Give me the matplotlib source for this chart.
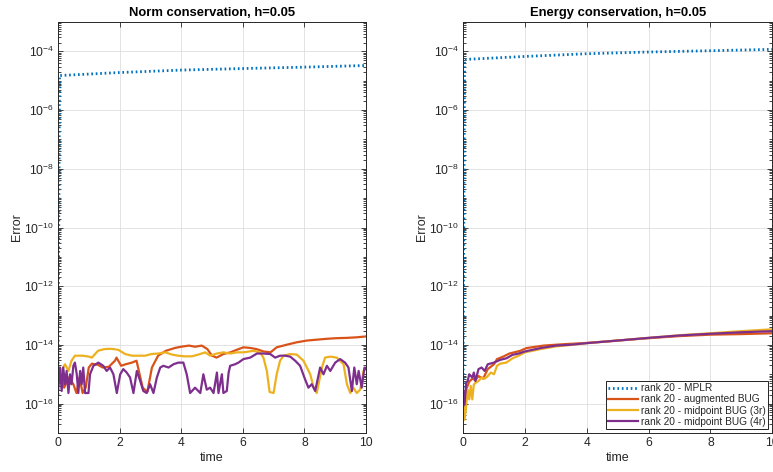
import numpy as np
import matplotlib
matplotlib.use("Agg")
import matplotlib.pyplot as plt
from matplotlib.ticker import FixedLocator, LogLocator, NullFormatter

plt.rcParams['font.family'] = ['Liberation Sans', 'DejaVu Sans']
plt.rcParams['mathtext.default'] = 'regular'

# MATLAB default line colours
c_blue = '#0072BD'
c_orange = '#D95319'
c_yellow = '#EDB120'
c_purple = '#7E2F8E'

labels = ['rank 20 - MPLR', 'rank 20 - augmented BUG',
          'rank 20 - midpoint BUG (3r)', 'rank 20 - midpoint BUG (4r)']

# ---- Norm conservation (left) ----
t_mplr = [0, 0.05, 2, 4, 6, 8, 10]
norm_mplr = [2.0e-16, 1.5e-5, 1.9e-5, 2.3e-5, 2.6e-5, 2.9e-5, 3.3e-5]

t_norm_aug = [0, 0.1, 0.2, 0.35, 0.5, 0.6, 0.7, 0.8, 0.9, 1.0, 1.1, 1.3, 1.45, 1.65,
              1.85, 1.9, 2.05, 2.2, 2.4, 2.55, 2.65, 2.75, 2.9, 3.05, 3.25, 3.5, 3.8,
              4.0, 4.25, 4.45, 4.67, 4.85, 5.0, 5.15, 5.37, 5.6, 5.8, 6.02, 6.24, 6.45,
              6.67, 6.9, 7.1, 7.43, 7.75, 8.08, 8.4, 8.73, 9.05, 9.38, 9.7, 10.0]
norm_aug = [5.9e-16, 1.0e-15, 3.5e-16, 7.8e-16, 4.6e-16, 2.3e-16, 7.8e-16, 2.3e-16,
            3.5e-16, 1.7e-15, 2.3e-15, 2.1e-15, 1.7e-15, 1.8e-15, 2.9e-15, 3.7e-15,
            1.95e-15, 2.2e-15, 2.5e-15, 2.9e-15, 1.0e-15, 3.5e-16, 2.5e-16, 1.7e-15,
            4.3e-15, 6.3e-15, 7.9e-15, 8.7e-15, 9.5e-15, 8.7e-15, 9.5e-15, 7.2e-15,
            4.3e-15, 3.7e-15, 4.9e-15, 5.6e-15, 6.8e-15, 8.3e-15, 7.9e-15, 7.2e-15,
            6.0e-15, 5.6e-15, 8.3e-15, 1.02e-14, 1.23e-14, 1.41e-14, 1.51e-14,
            1.62e-14, 1.70e-14, 1.74e-14, 1.82e-14, 1.95e-14]

t_norm_mid3 = [0, 0.1, 0.23, 0.34, 0.44, 0.55, 0.8, 1.0, 1.1, 1.3, 1.5, 1.7, 1.85, 1.96,
               2.18, 2.4, 2.6, 2.83, 3.04, 3.26, 3.48, 3.7, 3.9, 4.1, 4.35, 4.56, 4.78,
               4.94, 5.16, 5.37, 5.59, 5.81, 6.02, 6.35, 6.56, 6.67, 6.78, 6.87, 7.0,
               7.1, 7.21, 7.32, 7.54, 7.75, 7.97, 8.19, 8.3, 8.4, 8.57, 8.67, 8.84,
               9.05, 9.27, 9.38, 9.49, 9.59, 9.7, 9.81, 9.92, 10.0]
norm_mid3 = [5.9e-16, 1.3e-15, 2.2e-15, 1.3e-15, 2.9e-15, 4.3e-15, 4.3e-15, 4.0e-15,
             3.7e-15, 6.3e-15, 7.2e-15, 7.4e-15, 7.1e-15, 6.8e-15, 4.9e-15, 4.3e-15,
             4.3e-15, 4.3e-15, 4.9e-15, 5.1e-15, 5.6e-15, 4.7e-15, 4.3e-15, 4.1e-15,
             4.1e-15, 4.7e-15, 5.6e-15, 4.3e-15, 5.1e-15, 5.6e-15, 5.1e-15, 5.6e-15,
             5.6e-15, 6.3e-15, 5.6e-15, 3.7e-15, 1.3e-15, 2.5e-16, 2.3e-16, 1.0e-15,
             2.9e-15, 4.3e-15, 4.9e-15, 4.7e-15, 2.9e-15, 1.0e-15, 3.5e-16, 2.3e-16,
             1.7e-15, 3.7e-15, 4.0e-15, 3.7e-15, 2.2e-15, 4.6e-16, 2.3e-16, 3.5e-16,
             2.3e-16, 3.0e-16, 1.3e-15, 1.7e-15]

t_norm_mid4 = [0, 0.065, 0.12, 0.17, 0.23, 0.28, 0.34, 0.39, 0.44, 0.5, 0.55, 0.61, 0.66,
               0.72, 0.77, 0.82, 0.88, 0.99, 1.04, 1.15, 1.31, 1.47, 1.58, 1.69, 1.8,
               1.91, 2.02, 2.12, 2.23, 2.34, 2.45, 2.56, 2.67, 2.77, 2.88, 2.99, 3.1,
               3.21, 3.32, 3.42, 3.59, 3.75, 3.91, 4.07, 4.18, 4.29, 4.45, 4.62, 4.72,
               4.83, 4.94, 5.05, 5.16, 5.21, 5.32, 5.37, 5.48, 5.54, 5.59, 5.75, 5.86,
               6.02, 6.24, 6.46, 6.67, 6.89, 7.05, 7.21, 7.38, 7.54, 7.7, 7.86, 8.02,
               8.13, 8.24, 8.35, 8.51, 8.62, 8.73, 8.84, 9.0, 9.16, 9.32, 9.43, 9.54,
               9.62, 9.7, 9.76, 9.86, 9.95, 10.0]
norm_mid4 = [2.7e-16, 1.7e-15, 2.7e-16, 1.7e-15, 4.6e-16, 1.3e-15, 2.3e-16, 1.0e-15,
             4.6e-16, 1.95e-15, 2.5e-15, 1.0e-15, 2.3e-16, 1.3e-15, 4.6e-16, 1.7e-15,
             2.3e-16, 2.3e-16, 1.0e-15, 1.95e-15, 2.5e-15, 1.95e-15, 1.3e-15, 1.7e-15,
             1.0e-15, 2.3e-16, 1.0e-15, 1.5e-15, 1.15e-15, 7.8e-16, 2.3e-16, 1.3e-15,
             5.9e-16, 2.7e-16, 2.3e-16, 4.6e-16, 2.3e-16, 7.8e-16, 1.7e-15, 1.95e-15,
             1.7e-15, 2.2e-15, 2.5e-15, 2.5e-15, 1.0e-15, 2.3e-16, 3.5e-16, 2.3e-16,
             1.0e-15, 3.0e-16, 3.5e-16, 2.3e-16, 1.15e-15, 2.3e-16, 1.0e-15, 2.3e-16,
             2.7e-16, 1.15e-15, 1.95e-15, 2.2e-15, 2.5e-15, 3.3e-15, 3.7e-15, 5.1e-15,
             5.1e-15, 4.9e-15, 3.7e-15, 4.3e-15, 4.3e-15, 4.0e-15, 2.9e-15, 1.95e-15,
             6.8e-16, 3.5e-16, 4.6e-16, 2.7e-16, 1.7e-15, 1.0e-15, 1.95e-15, 1.3e-15,
             2.5e-15, 3.3e-15, 2.5e-15, 1.7e-15, 2.7e-16, 1.7e-15, 4.6e-16, 1.3e-15,
             3.5e-16, 1.7e-15, 1.5e-15]

# ---- Energy conservation (right) ----
energy_mplr = [1.7e-16, 5.3e-5, 6.7e-5, 8.3e-5, 9.5e-5, 1.05e-4, 1.17e-4]

t_en_aug = [0, 0.05, 0.1, 0.2, 0.3, 0.4, 0.5, 0.65, 0.8, 1.0, 1.1, 1.3, 1.5, 1.85, 2.05,
            2.6, 3.2, 4.0, 5.0, 6.0, 7.0, 8.0, 9.0, 10.0]
en_aug = [2.0e-16, 1.26e-16, 3.0e-16, 5.6e-16, 7.1e-16, 6.3e-16, 8.7e-16, 7.1e-16,
          1.5e-15, 2.2e-15, 3.3e-15, 4.0e-15, 5.1e-15, 6.3e-15, 7.8e-15, 9.5e-15,
          1.05e-14, 1.17e-14, 1.41e-14, 1.7e-14, 2.0e-14, 2.24e-14, 2.34e-14, 2.5e-14]

t_en_mid3 = [0, 0.05, 0.1, 0.15, 0.2, 0.25, 0.3, 0.35, 0.4, 0.5, 0.6, 0.7, 0.8, 0.9, 1.0,
             1.1, 1.2, 1.4, 1.6, 1.8, 2.0, 2.5, 3.0, 3.5, 4.0, 5.0, 6.0, 7.0, 8.0, 9.0,
             10.0]
en_mid3 = [1.8e-16, 2.8e-17, 8.1e-17, 3.0e-16, 1.4e-16, 4.0e-16, 1.4e-16, 4.5e-16,
           5.1e-16, 5.9e-16, 7.8e-16, 7.1e-16, 8.7e-16, 1.15e-15, 1.0e-15, 1.95e-15,
           2.3e-15, 2.5e-15, 3.5e-15, 4.3e-15, 5.6e-15, 7.2e-15, 8.9e-15, 1.0e-14,
           1.15e-14, 1.41e-14, 1.74e-14, 2.14e-14, 2.5e-14, 2.95e-14, 3.4e-14]

t_en_mid4 = [0, 0.05, 0.1, 0.15, 0.2, 0.3, 0.35, 0.4, 0.5, 0.6, 0.7, 0.8, 1.0, 1.2, 1.4,
             1.6, 1.8, 2.0, 2.5, 3.0, 3.5, 4.0, 5.0, 6.0, 7.0, 8.0, 9.0, 10.0]
en_mid4 = [2.8e-16, 9.3e-17, 5.1e-16, 5.9e-16, 1.0e-15, 7.8e-16, 1.15e-15, 5.9e-16,
           1.5e-15, 1.7e-15, 1.3e-15, 2.2e-15, 2.5e-15, 3.1e-15, 3.5e-15, 4.6e-15,
           5.1e-15, 6.0e-15, 7.8e-15, 9.5e-15, 1.02e-14, 1.15e-14, 1.41e-14, 1.74e-14,
           2.1e-14, 2.4e-14, 2.7e-14, 2.95e-14]

fig = plt.figure(figsize=(7.73, 4.72), dpi=100)
ax1 = fig.add_axes([0.0750, 0.0826, 0.3985, 0.8708])
ax2 = fig.add_axes([0.5990, 0.0826, 0.4000, 0.8708])

grey = '#262626'


def style(ax, title):
    ax.set_yscale('log')
    ax.set_xlim(0, 10)
    ax.set_ylim(1e-17, 1e-3)
    ax.set_xticks([0, 2, 4, 6, 8, 10])
    ax.yaxis.set_major_locator(FixedLocator([1e-16, 1e-14, 1e-12, 1e-10, 1e-8, 1e-6, 1e-4]))
    ax.yaxis.set_minor_locator(LogLocator(base=10, subs=np.arange(1, 10), numticks=200))
    ax.yaxis.set_minor_formatter(NullFormatter())
    ax.grid(True, which='major', color='#dedede', lw=0.6)
    ax.set_axisbelow(True)
    ax.tick_params(which='both', direction='in', top=True, right=True, colors=grey,
                   labelsize=8.7, width=0.6)
    ax.tick_params(which='major', length=3.5, pad=3)
    ax.tick_params(which='minor', length=2)
    for s in ax.spines.values():
        s.set_color(grey)
        s.set_linewidth(0.7)
    ax.set_title(title, fontsize=9.4, fontweight='bold', pad=4)
    ax.set_xlabel('time', fontsize=9, color=grey, labelpad=2)
    ax.set_ylabel('Error', fontsize=9, color=grey, labelpad=1)


dots = (0, (0.6, 1.0))

ax1.plot(t_mplr, norm_mplr, color=c_blue, lw=2, linestyle=dots, label=labels[0])
ax1.plot(t_norm_aug, norm_aug, color=c_orange, lw=1.6, label=labels[1])
ax1.plot(t_norm_mid3, norm_mid3, color=c_yellow, lw=1.6, label=labels[2])
ax1.plot(t_norm_mid4, norm_mid4, color=c_purple, lw=1.6, label=labels[3])
style(ax1, 'Norm conservation, h=0.05')

ax2.plot(t_mplr, energy_mplr, color=c_blue, lw=2, linestyle=dots, label=labels[0])
ax2.plot(t_en_aug, en_aug, color=c_orange, lw=1.6, label=labels[1])
ax2.plot(t_en_mid3, en_mid3, color=c_yellow, lw=1.6, label=labels[2])
ax2.plot(t_en_mid4, en_mid4, color=c_purple, lw=1.6, label=labels[3])
style(ax2, 'Energy conservation, h=0.05')

leg = ax2.legend(loc='lower right', fontsize=7.3, frameon=True, fancybox=False,
                 framealpha=1, edgecolor='black', borderpad=0.2, labelspacing=0.12,
                 handlelength=3.0, handletextpad=0.3, borderaxespad=0.4)
leg.get_frame().set_linewidth(0.6)
for txt in leg.get_texts():
    txt.set_color(grey)

fig.savefig('out.png', dpi=100)
